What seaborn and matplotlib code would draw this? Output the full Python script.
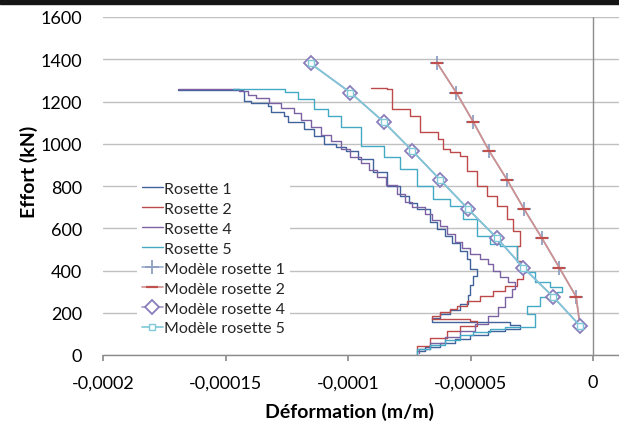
import numpy as np
import pandas as pd
import matplotlib
matplotlib.use("Agg")
import matplotlib.pyplot as plt
import seaborn as sns
from matplotlib.patches import Rectangle
from matplotlib.ticker import FixedLocator, FixedFormatter

# strains are read in units of 1e-5 m/m, loads in kN
r1_strain = [-7.17, -6.84, -6.23, -5.62, -5.01, -4.28, -3.58, -2.97, -3.38, -6.56, -6.23, -5.82,
             -5.42, -5.09, -5.01, -4.89, -4.72, -5.01, -5.13, -5.42, -5.74, -6.03, -6.35, -6.64,
             -7.17, -7.53, -7.86, -8.39, -8.96, -9.61, -10.10, -10.51, -11.00, -11.40, -11.81,
             -12.46, -12.63, -13.16, -13.28, -13.97, -14.26, -14.30, -14.70, -16.01, -16.94]
r1_load = [0, 19, 38, 57, 76, 95, 114, 123, 142, 156, 175, 194,
           213, 241, 284, 331, 374, 407, 454, 492, 530, 563, 596, 630,
           691, 720, 753, 800, 866, 928, 966, 985, 999, 1037, 1070,
           1103, 1131, 1150, 1179, 1193, 1202, 1250, 1254, 1254, 1254]

r2_strain = [-7.17, -6.64, -5.95, -5.42, -4.72, -5.01, -6.56, -6.23, -5.82, -5.54, -5.13, -4.60,
             -4.07, -3.58, -3.10, -2.85, -2.85, -3.10, -2.97, -3.26, -3.50, -3.91, -4.32, -4.72,
             -5.13, -5.42, -5.82, -6.11, -6.31, -7.05, -7.45, -8.19, -8.39, -9.08]
r2_load = [19, 43, 80, 114, 137, 161, 170, 185, 204, 218, 232, 256,
           279, 303, 327, 360, 407, 445, 516, 587, 644, 705, 753, 800,
           871, 942, 961, 975, 1023, 1056, 1131, 1165, 1259, 1264]

r4_strain = [-7.09, -6.64, -6.03, -5.42, -4.81, -4.28, -3.87, -3.58, -3.30, -3.18, -3.46, -3.79,
             -4.07, -4.28, -4.60, -5.01, -5.34, -5.62, -5.95, -6.23, -6.56, -6.84, -7.37, -7.66,
             -8.02, -8.47, -8.80, -9.16, -9.49, -9.90, -10.30, -10.71, -11.12, -11.53, -11.93,
             -12.22, -12.75, -13.24, -13.77, -14.09, -14.46, -14.70, -16.94]
r4_load = [9, 28, 57, 85, 114, 147, 185, 227, 275, 312, 346, 369,
           398, 431, 454, 478, 507, 535, 573, 611, 639, 667, 701, 724,
           762, 805, 843, 876, 909, 937, 975, 1013, 1041, 1079, 1112,
           1146, 1169, 1193, 1217, 1231, 1250, 1259, 1259]

r5_strain = [-7.17, -6.64, -6.03, -5.42, -4.89, -4.20, -3.58, -2.36, -2.69, -2.16, -1.47, -1.26,
             -1.75, -2.36, -2.85, -3.10, -3.79, -4.20, -4.72, -5.29, -5.82, -6.52, -7.17, -7.86,
             -8.55, -9.49, -10.30, -10.83, -11.40, -12.06, -12.59, -12.63, -14.70]
r5_load = [5, 28, 47, 71, 95, 109, 123, 133, 194, 232, 275, 298,
           322, 346, 393, 440, 516, 525, 563, 644, 705, 739, 800, 880,
           937, 989, 1079, 1131, 1165, 1212, 1245, 1259, 1259]

model_load = [1380, 1242, 1104, 966, 828, 690, 552, 414, 276, 138]
m1_strain = [-6.35, -5.58, -4.89, -4.24, -3.50, -2.81, -2.08, -1.38, -0.69, -0.53]
m2_strain = [-6.35, -5.58, -4.89, -4.24, -3.50, -2.81, -2.08, -1.38, -0.69, -0.53]
m4_strain = [-11.53, -9.90, -8.55, -7.37, -6.23, -5.09, -3.91, -2.85, -1.63, -0.53]
m5_strain = [-11.53, -9.90, -8.55, -7.37, -6.23, -5.09, -3.91, -2.85, -1.63, -0.53]

labels = ["Rosette 1", "Rosette 2", "Rosette 4", "Rosette 5",
          "Modèle rosette 1", "Modèle rosette 2", "Modèle rosette 4", "Modèle rosette 5"]
xticks = [-0.0002, -0.00015, -0.0001, -0.00005, 0]
xtick_labels = ["-0,0002", "-0,00015", "-0,0001", "-0,00005", "0"]
yticks = [0, 200, 400, 600, 800, 1000, 1200, 1400, 1600]

sns.set_theme(style="white")
plt.rcParams["font.family"] = ["Lato", "DejaVu Sans"]

fig = plt.figure(figsize=(6.19, 4.27), dpi=100)
ax = fig.add_axes([103 / 619, 71 / 427, 516 / 619, 338 / 427])

series = [
    (r1_strain, r1_load, dict(color="#41639B", lw=1.0, drawstyle="steps-pre")),
    (r2_strain, r2_load, dict(color="#BC4A4A", lw=1.0, drawstyle="steps-pre")),
    (r4_strain, r4_load, dict(color="#7B62A3", lw=1.0, drawstyle="steps-pre")),
    (r5_strain, r5_load, dict(color="#43A9C4", lw=1.0, drawstyle="steps-pre")),
    (m1_strain, model_load, dict(color="#9AAFD0", lw=1.2, marker="+", ms=10, mew=1.3,
                                 mec="#8E9FC0")),
    (m2_strain, model_load, dict(color="#D0908E", lw=1.2, marker="_", ms=8, mew=1.6,
                                 mec="#C0504D")),
    (m4_strain, model_load, dict(color="#A597C8", lw=1.2, marker="D", ms=7.5, mew=1.3,
                                 mfc="white", mec="#8B7DBA")),
    (m5_strain, model_load, dict(color="#7EC8D8", lw=1.2, marker="s", ms=5, mew=1.0,
                                 mfc="white", mec="#7EC8D8")),
]

handles = []
for (sx, sy, style), name in zip(series, labels):
    df = pd.DataFrame({"x": np.array(sx) * 1e-5, "y": sy})
    sns.lineplot(data=df, x="x", y="y", sort=False, estimator=None, legend=False, ax=ax, **style)
    handles.append(ax.lines[-1])

ax.set_xlim(-0.0002, 0.0000106)
ax.set_ylim(0, 1600)
ax.xaxis.set_major_locator(FixedLocator(xticks))
ax.xaxis.set_major_formatter(FixedFormatter(xtick_labels))
ax.set_yticks(yticks)
ax.set_yticklabels([str(v) for v in yticks])

ax.grid(axis="y", color="#C0C0C0", lw=1.0)
ax.grid(axis="x", visible=False)
ax.set_axisbelow(True)
for s in ["left", "right", "top"]:
    ax.spines[s].set_visible(False)
ax.spines["bottom"].set_color("#8C8C8C")
ax.spines["bottom"].set_linewidth(1.0)
ax.axvline(0, color="#8C8C8C", lw=1.0, zorder=1.5)

ax.tick_params(axis="x", bottom=True, length=4, color="#8C8C8C", labelsize=13, pad=10,
               labelcolor="black")
ax.tick_params(axis="y", left=False, length=0, labelsize=13, pad=15, labelcolor="black")

ax.set_xlabel("Déformation (m/m)", fontsize=14, fontweight="bold", color="black")
ax.set_ylabel("Effort (kN)", fontsize=14, fontweight="bold", color="black")
ax.xaxis.set_label_coords(0.477, -0.14)
ax.yaxis.set_label_coords(-0.125, 0.544)

leg = ax.legend(handles, labels, loc="upper left", bbox_to_anchor=(129 / 619, 1 - 170 / 427),
                bbox_transform=fig.transFigure, frameon=True, facecolor="white",
                edgecolor="none", framealpha=1, fancybox=False, fontsize=11.5,
                handlelength=1.3, handletextpad=0.1, labelspacing=0.36, borderpad=0.3)

fig.add_artist(Rectangle((0, 1 - 5 / 427), 1, 5 / 427, transform=fig.transFigure,
                         color="#151515", zorder=10))

fig.savefig("out.png", dpi=100)
